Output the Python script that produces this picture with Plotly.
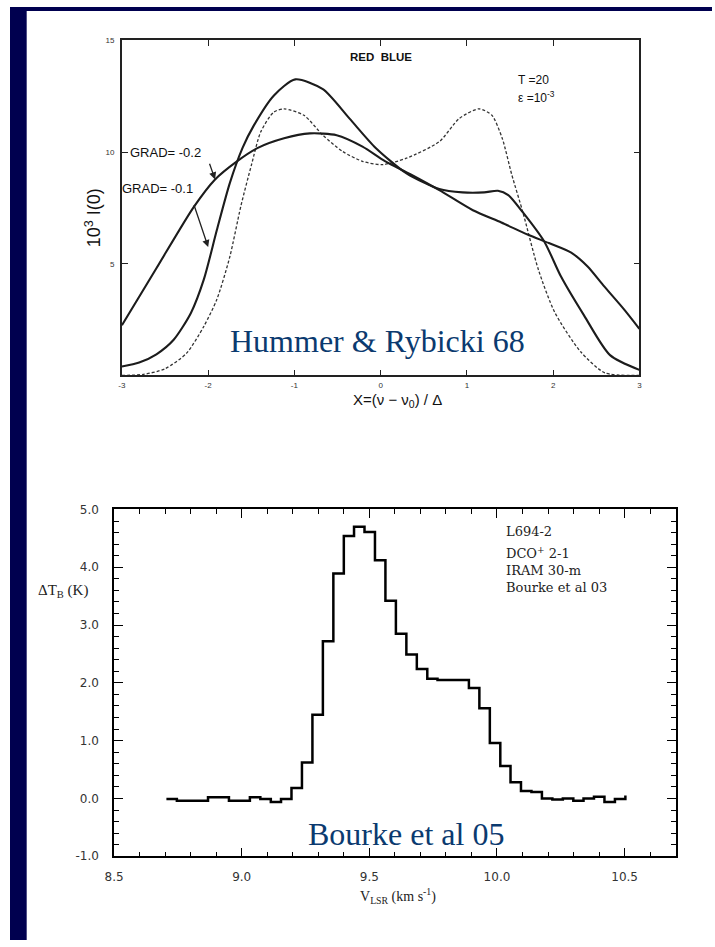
import plotly.graph_objects as go

W, H = 715, 947

# ---------------- top panel data (Hummer & Rybicki 68) ----------------
grad02_x = [-3.0, -2.6, -2.17, -1.92, -1.67, -1.43, -1.12, -0.82, -0.51, -0.21, 0.05, 0.35, 0.68, 1.07,
            1.40, 1.71, 1.95, 2.21, 2.40, 2.59, 2.82, 3.0]
grad02_y = [2.25, 4.8, 7.53, 8.78, 9.58, 10.18, 10.62, 10.84, 10.76, 10.25, 9.6, 9.0, 8.3, 7.4,
            6.85, 6.3, 5.93, 5.5, 4.88, 4.0, 2.97, 2.09]

grad01_x = [-3.0, -2.8, -2.6, -2.4, -2.2, -2.05, -1.9, -1.75, -1.6, -1.47, -1.24, -0.99, -0.67, -0.36,
            -0.06, 0.30, 0.68, 0.95, 1.20, 1.36, 1.48, 1.65, 1.90, 2.09, 2.36, 2.66, 3.0]
grad01_y = [0.40, 0.58, 0.95, 1.6, 2.8, 4.3, 6.5, 8.6, 10.2, 11.2, 12.53, 13.26, 12.82, 11.5,
            10.2, 9.05, 8.35, 8.2, 8.2, 8.27, 8.08, 7.3, 5.98, 4.44, 2.68, 0.91, 0.25]

static_x = [-3.0, -2.75, -2.5, -2.25, -2.05, -1.9, -1.75, -1.62, -1.5, -1.39, -1.24, -1.12, -0.89,
            -0.67, -0.44, -0.21, 0.02, 0.30, 0.68, 0.91, 1.14, 1.29, 1.41, 1.52, 1.65, 1.83, 2.02,
            2.32, 2.6, 3.0]
static_y = [0.0, 0.05, 0.3, 1.0, 2.2, 3.4, 5.3, 7.6, 9.4, 10.91, 11.79, 11.94, 11.65,
            10.76, 10.03, 9.59, 9.44, 9.73, 10.47, 11.5, 11.94, 11.65, 10.62, 9.0, 7.3, 4.73, 2.82,
            1.06, 0.12, 0.0]

top_xticks = [-3, -2, -1, 0, 1, 2, 3]
top_xticktext = ["-3", "-2", "-1", "0", "1", "2", "3"]
top_yticks = [5, 10, 15]
top_yticktext = ["5", "10", "15"]

# ---------------- bottom panel data (Bourke et al 05) ----------------
v_lsr = [8.705, 8.746, 8.787, 8.828, 8.868, 8.909, 8.950, 8.991, 9.032, 9.073, 9.114, 9.154,
         9.195, 9.236, 9.277, 9.318, 9.359, 9.400, 9.440, 9.481, 9.522, 9.563, 9.604, 9.645,
         9.686, 9.727, 9.767, 9.808, 9.849, 9.890, 9.931, 9.972, 10.013, 10.053, 10.094, 10.135,
         10.176, 10.217, 10.258, 10.299, 10.339, 10.380, 10.421, 10.462, 10.503]
dTb = [-0.01, -0.04, -0.04, -0.04, 0.02, 0.02, -0.04, -0.04, 0.02, -0.01, -0.06, -0.01,
       0.18, 0.62, 1.45, 2.72, 3.89, 4.54, 4.70, 4.61, 4.12, 3.42, 2.85, 2.49,
       2.24, 2.07, 2.05, 2.05, 2.05, 1.91, 1.56, 0.96, 0.56, 0.28, 0.13, 0.11,
       0.00, -0.02, 0.00, -0.04, 0.00, 0.03, -0.06, -0.01, 0.05]

bot_xticks = [8.5, 9.0, 9.5, 10.0, 10.5]
bot_xticktext = ["8.5", "9.0", "9.5", "10.0", "10.5"]
bot_yticks = [-1, 0, 1, 2, 3, 4, 5]
bot_yticktext = ["-1.0", "0.0", "1.0", "2.0", "3.0", "4.0", "5.0"]


def px(x):
    return x / W


def py(y):
    return 1 - y / H


NAVY = "#00004f"
LABEL_BLUE = "#0b3a6f"
INK = "#1c1c1c"

fig = go.Figure()

fig.add_trace(go.Scatter(x=static_x, y=static_y, mode="lines", xaxis="x", yaxis="y",
                         line=dict(color="#333", width=1.3, dash="3px,2px", shape="spline", smoothing=0.7),
                         showlegend=False, hoverinfo="skip"))
fig.add_trace(go.Scatter(x=grad02_x, y=grad02_y, mode="lines", xaxis="x", yaxis="y",
                         line=dict(color=INK, width=2.1, shape="spline", smoothing=0.7),
                         showlegend=False, hoverinfo="skip"))
fig.add_trace(go.Scatter(x=grad01_x, y=grad01_y, mode="lines", xaxis="x", yaxis="y",
                         line=dict(color=INK, width=2.1, shape="spline", smoothing=0.7),
                         showlegend=False, hoverinfo="skip"))

fig.add_trace(go.Scatter(x=v_lsr, y=dTb, mode="lines", xaxis="x2", yaxis="y2",
                         line=dict(color="black", width=2.5, shape="hv"),
                         showlegend=False, hoverinfo="skip"))

tick_font_top = dict(family="Liberation Sans, Arial", size=8, color="#333")
tick_font_bot = dict(family="DejaVu Sans", size=12, color="#333")

fig.update_layout(
    width=W, height=H,
    margin=dict(l=0, r=0, t=0, b=0),
    paper_bgcolor="white", plot_bgcolor="white",
    showlegend=False,
    xaxis=dict(domain=[px(114), px(641)], range=[-3, 3], anchor="y",
               showline=True, linecolor="#222", linewidth=1.6, mirror="ticks",
               ticks="inside", ticklen=6, tickwidth=1.3, tickcolor="#222",
               tickmode="array", tickvals=top_xticks, ticktext=top_xticktext,
               tickfont=tick_font_top, ticklabelstandoff=1,
               showgrid=False, zeroline=False, fixedrange=True),
    yaxis=dict(domain=[py(374), py(34)], range=[0, 15], anchor="x",
               showline=True, linecolor="#222", linewidth=1.6, mirror="ticks",
               ticks="inside", ticklen=6, tickwidth=1.3, tickcolor="#222",
               tickmode="array", tickvals=top_yticks, ticktext=top_yticktext,
               tickfont=tick_font_top, ticklabelstandoff=4,
               showgrid=False, zeroline=False, fixedrange=True),
    xaxis2=dict(domain=[px(106), px(678)], range=[8.5, 10.7], anchor="y2",
                showline=True, linecolor="black", linewidth=1.5, mirror="ticks",
                ticks="inside", ticklen=9, tickwidth=1.3, tickcolor="black",
                tickmode="array", tickvals=bot_xticks, ticktext=bot_xticktext,
                minor=dict(tickmode="linear", tick0=8.5, dtick=0.1, ticks="inside",
                           ticklen=5, tickwidth=1.2, tickcolor="black"),
                tickfont=tick_font_bot, ticklabelstandoff=9,
                showgrid=False, zeroline=False, fixedrange=True),
    yaxis2=dict(domain=[py(862), py(510)], range=[-1, 5], anchor="x2",
                showline=True, linecolor="black", linewidth=1.5, mirror="ticks",
                ticks="inside", ticklen=9, tickwidth=1.3, tickcolor="black",
                tickmode="array", tickvals=bot_yticks, ticktext=bot_yticktext,
                minor=dict(tickmode="linear", tick0=-1, dtick=0.2, ticks="inside",
                           ticklen=5, tickwidth=1.2, tickcolor="black"),
                tickfont=tick_font_bot, ticklabelstandoff=11,
                showgrid=False, zeroline=False, fixedrange=True),
)

# slide frame
fig.add_shape(type="rect", xref="paper", yref="paper", x0=0, x1=px(17), y0=0, y1=1,
              fillcolor=NAVY, line=dict(width=0), layer="above")
fig.add_shape(type="rect", xref="paper", yref="paper", x0=0, x1=1, y0=py(4), y1=1,
              fillcolor=NAVY, line=dict(width=0), layer="above")

ann = []


def text(x, y, s, size, family, color="#222", xanchor="left", yanchor="middle", angle=0):
    ann.append(dict(x=px(x), y=py(y), xref="paper", yref="paper", text=s, showarrow=False,
                    xanchor=xanchor, yanchor=yanchor, textangle=angle, borderpad=0,
                    font=dict(size=size, family=family, color=color)))


sans = "Liberation Sans, Arial"
serif_b = "DejaVu Serif"
times = "Liberation Serif, Times New Roman"

# top panel texts
text(345, 51, "<b>RED&nbsp;&nbsp;BLUE</b>", 11.5, sans, color="#111")
text(516, 74, "T =20", 12, sans, color="#111")
text(516, 91, "ε =10<sup>-3</sup>", 12, sans, color="#111")
text(121, 148, "GRAD= -0.2", 13, sans, color="#111")
text(113, 184, "GRAD= -0.1", 13, sans, color="#111")
text(85, 214, "10<sup>3</sup>&nbsp;I(0)", 18, sans, color="#111", xanchor="center", angle=-90)
text(395, 399, "X=(ν − ν<sub>0</sub>) / Δ", 15, sans, color="#111", xanchor="center")
text(223, 339, "Hummer &amp; Rybicki 68", 32, times, color=LABEL_BLUE)

# arrows (annotation arrows pointing onto the curves)
ann.append(dict(x=-1.92, y=8.78, xref="x", yref="y", ax=-1.99, ay=9.55, axref="x", ayref="y",
                text="", showarrow=True, arrowhead=2, arrowsize=1.1, arrowwidth=1.3, arrowcolor="#222"))
ann.append(dict(x=-2.0, y=5.75, xref="x", yref="y", ax=-2.17, ay=7.7, axref="x", ayref="y",
                text="", showarrow=True, arrowhead=2, arrowsize=1.1, arrowwidth=1.3, arrowcolor="#222"))

# bottom panel texts
text(504, 532, "L694-2", 13, serif_b, color="#222")
text(504, 554, "DCO<sup>+</sup> 2-1", 13, serif_b, color="#222")
text(504, 572, "IRAM 30-m", 13, serif_b, color="#222")
text(504, 589, "Bourke et al 03", 13, serif_b, color="#222")
text(27, 593, "ΔT<sub>B</sub> (K)", 15, times, color="#222")
text(395, 902, "V<sub>LSR</sub> (km s<sup>-1</sup>)", 14, times, color="#222", xanchor="center")
text(303, 839, "Bourke et al 05", 32, times, color=LABEL_BLUE)

fig.update_layout(annotations=ann)

fig.write_html("out.html")
